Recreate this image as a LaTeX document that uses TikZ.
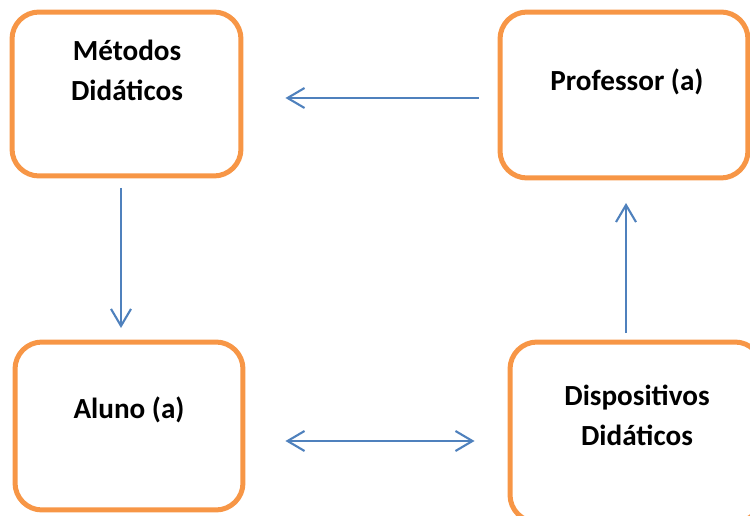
\documentclass[tikz,border=0pt]{standalone}
\usepackage{fontspec}
\setmainfont{Carlito}
\usetikzlibrary{arrows.meta}
\definecolor{boxorange}{HTML}{F79646}
\definecolor{arrowblue}{HTML}{4F81BD}
\begin{document}
\begin{tikzpicture}[
        x=0.02cm, y=-0.02cm,
        box/.style={rectangle, draw=boxorange, line width=0.1cm, rounded corners=0.54cm, inner sep=0pt},
        label/.style={font=\fontsize{16.6}{22.8}\selectfont\bfseries, align=center},
        arrow/.style={arrowblue, line width=0.042cm, -{Straight Barb[length=0.34cm, width=0.4cm]}}
    ]
        \useasboundingbox (0,0) rectangle (750,516);
        \clip (0,0) rectangle (750,516);

        % Boxes
        \node[box, minimum width=4.58cm, minimum height=3.28cm] (metodos) at (126.5,94) {};
        \node[box, minimum width=4.96cm, minimum height=3.32cm] (professor) at (624,95) {};
        \node[box, minimum width=4.56cm, minimum height=3.36cm] (aluno) at (129,426) {};
        \node[box, minimum width=5.04cm, minimum height=3.6cm] (dispositivos) at (636,432) {};

        % Box texts
        \node[label] (metodosTxt) at (127,70) {Métodos\\Didáticos};
        \node[label] (professorTxt) at (627,82) {Professor (a)};
        \node[label] (alunoTxt) at (129,410) {Aluno (a)};
        \node[label] (dispositivosTxt) at (637,415) {Dispositivos\\Didáticos};

        % Connect boxes
        \draw[arrow, shorten <=0.38cm, shorten >=0.84cm] (professor.west |- 0,98) -- (metodos.east |- 0,98);
        \draw[arrow, shorten <=0.24cm, shorten >=0.28cm] (121,176) -- (121,342);
        \draw[arrow, {Straight Barb[length=0.34cm, width=0.4cm]}-{Straight Barb[length=0.34cm, width=0.4cm]}, shorten <=0.8cm, shorten >=0.66cm] (aluno.east |- 0,441) -- (dispositivos.west |- 0,441);
        \draw[arrow, shorten <=0.18cm, shorten >=0.5cm] (626,342) -- (626,178);
    \end{tikzpicture}
\end{document}
